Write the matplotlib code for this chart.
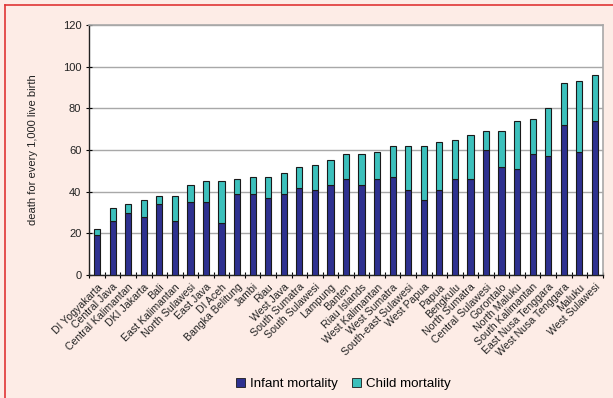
import matplotlib
matplotlib.use("Agg")
import matplotlib.pyplot as plt
from matplotlib.lines import Line2D
from matplotlib.patches import Patch
import numpy as np

plt.rcParams['font.family'] = ['Liberation Sans', 'DejaVu Sans']

provinces = [
    "DI Yogyakarta", "Central Java", "Central Kalimantan", "DKI Jakarta", "Bali",
    "East Kalimantan", "North Sulawesi", "East Java", "DI Aceh", "Bangka Belitung",
    "Jambi", "Riau", "West Java", "South Sumatra", "South Sulawesi", "Lampung",
    "Banten", "Riau Islands", "West Kalimantan", "West Sumatra", "South-east Sulawesi",
    "West Papua", "Papua", "Bengkulu", "North Sumatra", "Central Sulawesi",
    "Gorontalo", "North Maluku", "South Kalimantan", "East Nusa Tenggara",
    "West Nusa Tenggara", "Maluku", "West Sulawesi",
]
infant = [19, 26, 30, 28, 34, 26, 35, 35, 25, 39, 39, 37, 39, 42, 41, 43,
          46, 43, 46, 47, 41, 36, 41, 46, 46, 60, 52, 51, 58, 57, 72, 59, 74]
under_five = [22, 32, 34, 36, 38, 38, 43, 45, 45, 46, 47, 47, 49, 52, 53, 55,
              58, 58, 59, 62, 62, 62, 64, 65, 67, 69, 69, 74, 75, 80, 92, 93, 96]
child = [t - i for t, i in zip(under_five, infant)]

bg = "#FDECE6"
navy = "#2E3190"
teal = "#3CC0BC"

fig = plt.figure(figsize=(6.13, 3.98), dpi=100, facecolor=bg)
ax = fig.add_axes([89 / 613, 1 - 275 / 398, 514 / 613, 250 / 398])
ax.set_facecolor("white")

x = np.arange(len(provinces))
w = 0.4
ax.bar(x, infant, width=w, color=navy, edgecolor="#1a1a1a", linewidth=0.8, zorder=3)
ax.bar(x, child, width=w, bottom=infant, color=teal, edgecolor="#1a1a1a",
       linewidth=0.8, zorder=3)

ax.set_xlim(-0.52, len(provinces) - 0.48)
ax.set_ylim(0, 120)
ax.set_yticks(np.arange(0, 121, 20))
ax.yaxis.grid(True, color="#A8A8A8", linewidth=1.0, zorder=0)
ax.tick_params(axis="y", direction="inout", length=5, width=0.8, labelsize=8,
               labelcolor="#222222", pad=3)

ax.set_xticks(x)
ax.set_xticklabels(provinces, rotation=45, ha="right", rotation_mode="anchor",
                   fontsize=7.6, color="#222222")
ax.set_xticks(np.arange(-0.5, len(provinces), 1), minor=True)
ax.tick_params(axis="x", which="major", length=0, pad=5)
ax.tick_params(axis="x", which="minor", direction="inout", length=5, width=0.8)

for s in ("left", "bottom"):
    ax.spines[s].set_color("#222222")
    ax.spines[s].set_linewidth(1.0)
for s in ("top", "right"):
    ax.spines[s].set_color("#A8A8A8")
    ax.spines[s].set_linewidth(1.2)

ax.set_ylabel("death for every 1,000 live birth", fontsize=8, color="#222222",
              labelpad=18)

handles = [Patch(facecolor=navy, edgecolor="#1a1a1a", linewidth=0.6, label="Infant mortality"),
           Patch(facecolor=teal, edgecolor="#1a1a1a", linewidth=0.6, label="Child mortality")]
fig.legend(handles=handles, loc="center", bbox_to_anchor=(0.56, 0.036), ncol=2,
           frameon=False, fontsize=9.6, handlelength=0.7, handleheight=0.7,
           handletextpad=0.4, columnspacing=1.0)

# red frame lines along the top and left edges
fig.add_artist(Line2D([5 / 613, 1], [1 - 5 / 398, 1 - 5 / 398], transform=fig.transFigure,
                      color="#E03535", linewidth=1.2))
fig.add_artist(Line2D([5 / 613, 5 / 613], [0, 1 - 5 / 398], transform=fig.transFigure,
                      color="#E03535", linewidth=1.2))

fig.savefig("out.png", dpi=100, facecolor=bg)
